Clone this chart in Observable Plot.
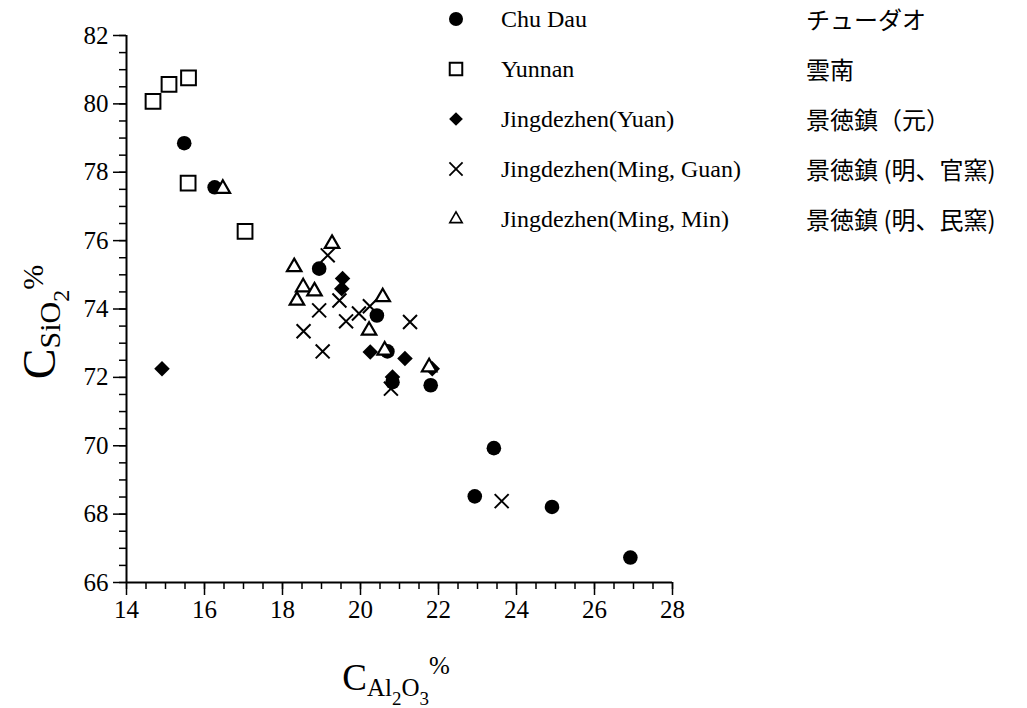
<!DOCTYPE html>
<html><head><meta charset="utf-8">
<script src="https://cdn.jsdelivr.net/npm/d3@7"></script>
<script src="https://cdn.jsdelivr.net/npm/@observablehq/plot@0.6"></script>
<style>
html,body{margin:0;padding:0;background:#fff;}
#chart{position:relative;width:1027px;height:708px;}
</style></head><body><div id="chart"></div>
<script>
// ---- data ----
const xMajorTicks = [14, 16, 18, 20, 22, 24, 26, 28];
const yMajorTicks = [66, 68, 70, 72, 74, 76, 78, 80, 82];
const xMinorTicks = d3.range(14, 28.001, 0.5);
const yMinorTicks = d3.range(66, 82.001, 0.5);

const seriesNames = ["Chu Dau", "Yunnan", "Jingdezhen(Yuan)", "Jingdezhen(Ming, Guan)", "Jingdezhen(Ming, Min)"];
const seriesNamesJa = ["チューダオ", "雲南", "景徳鎮（元）", "景徳鎮 (明、官窯)", "景徳鎮 (明、民窯)"];

const chuDauX = [15.48, 16.26, 18.94, 20.42, 20.69, 20.82, 21.80, 23.42, 22.93, 24.91, 26.92];
const chuDauY = [78.85, 77.56, 75.18, 73.81, 72.76, 71.86, 71.77, 69.93, 68.52, 68.21, 66.73];

const yunnanX = [14.68, 15.09, 15.59, 15.58, 17.04];
const yunnanY = [80.07, 80.57, 80.76, 77.68, 76.27];

const yuanX = [14.91, 19.54, 19.52, 20.25, 21.14, 21.84, 20.82];
const yuanY = [72.25, 74.89, 74.59, 72.74, 72.55, 72.25, 72.01];

const guanX = [19.16, 18.94, 19.46, 18.54, 19.03, 19.63, 19.96, 20.24, 21.27, 20.78, 23.62];
const guanY = [75.57, 73.96, 74.25, 73.35, 72.76, 73.64, 73.87, 74.08, 73.62, 71.67, 68.38];

const minX = [16.47, 19.27, 18.30, 18.53, 18.82, 18.37, 20.57, 20.22, 20.62, 21.76];
const minY = [77.52, 75.91, 75.23, 74.64, 74.52, 74.25, 74.35, 73.37, 72.79, 72.30];

const toRows = (xs, ys) => xs.map((x, i) => ({x, y: ys[i]}));
const chuDau = toRows(chuDauX, chuDauY);
const yunnan = toRows(yunnanX, yunnanY);
const yuan = toRows(yuanX, yuanY);
const guan = toRows(guanX, guanY);
const minData = toRows(minX, minY);

const serif = "'Liberation Serif', 'Times New Roman', serif";

const chart = Plot.plot({
  width: 1027,
  height: 708,
  marginLeft: 126,
  marginTop: 35,
  marginBottom: 126,
  marginRight: 355,
  x: {domain: [14, 28], label: null},
  y: {domain: [66, 82], label: null},
  style: {fontFamily: serif, background: "white", color: "black"},
  marks: [
    Plot.axisX(xMinorTicks, {tickSize: 7, tickFormat: () => "", strokeWidth: 1.5, label: null}),
    Plot.axisX(xMajorTicks, {tickSize: 13, tickPadding: 5, fontSize: 25, strokeWidth: 1.5, label: null, tickFormat: d => String(d)}),
    Plot.axisY(yMinorTicks, {tickSize: 7, tickFormat: () => "", strokeWidth: 1.5, label: null}),
    Plot.axisY(yMajorTicks, {tickSize: 13, tickPadding: 5, fontSize: 25, strokeWidth: 1.5, label: null, tickFormat: d => String(d)}),
    Plot.ruleY([66], {stroke: "black", strokeWidth: 2}),
    Plot.ruleX([14], {stroke: "black", strokeWidth: 2}),
    Plot.dot(chuDau, {x: "x", y: "y", r: 7.3, symbol: "circle", fill: "black", stroke: "none"}),
    Plot.dot(yunnan, {x: "x", y: "y", r: 9.4, symbol: "square2", fill: "white", stroke: "black", strokeWidth: 2}),
    Plot.dot(yuan, {x: "x", y: "y", r: 7.0, symbol: "diamond2", fill: "black", stroke: "none"}),
    Plot.dot(guan, {x: "x", y: "y", r: 6.4, symbol: "times", stroke: "black", strokeWidth: 2}),
    Plot.dot(minData, {x: "x", y: "y", r: 6.9, symbol: "triangle2", fill: "white", stroke: "black", strokeWidth: 2.2})
  ]
});
document.getElementById("chart").appendChild(chart);

const svg = d3.select(chart);

// axis labels
const yl = svg.append("text")
  .attr("transform", "translate(55,322) rotate(-90)")
  .attr("text-anchor", "middle")
  .attr("font-family", serif)
  .attr("fill", "black");
yl.append("tspan").attr("font-size", 46).text("C");
yl.append("tspan").attr("font-size", 30).attr("dy", 5).text("SiO");
yl.append("tspan").attr("font-size", 24).attr("dy", 9).text("2");
yl.append("tspan").attr("font-size", 30).attr("dy", -26).text("%");

const xl = svg.append("text")
  .attr("x", 396).attr("y", 690)
  .attr("text-anchor", "middle")
  .attr("font-family", serif)
  .attr("fill", "black");
xl.append("tspan").attr("font-size", 37).text("C");
xl.append("tspan").attr("font-size", 25).attr("dy", 6).text("Al");
xl.append("tspan").attr("font-size", 19).attr("dy", 9).text("2");
xl.append("tspan").attr("font-size", 25).attr("dy", -9).text("O");
xl.append("tspan").attr("font-size", 19).attr("dy", 9).text("3");
xl.append("tspan").attr("font-size", 25).attr("dy", -31).text("%");

// legend
const legendSymbols = [
  {sym: d3.symbolCircle, size: 155, fill: "black", stroke: "none", sw: 0},
  {sym: d3.symbolSquare2, size: 200, fill: "white", stroke: "black", sw: 2},
  {sym: d3.symbolDiamond2, size: 120, fill: "black", stroke: "none", sw: 0},
  {sym: d3.symbolTimes, size: 115, fill: "none", stroke: "black", sw: 1.8},
  {sym: d3.symbolTriangle2, size: 110, fill: "white", stroke: "black", sw: 1.6}
];
const lg = svg.append("g").attr("text-anchor", "start");
seriesNames.forEach((name, i) => {
  const cy = 19 + i * 50;
  const s = legendSymbols[i];
  lg.append("path")
    .attr("transform", `translate(456,${cy})`)
    .attr("d", d3.symbol(s.sym, s.size)())
    .attr("fill", s.fill).attr("stroke", s.stroke).attr("stroke-width", s.sw);
  lg.append("text").attr("x", 501).attr("y", cy + 8)
    .attr("text-anchor", "start")
    .attr("font-family", serif).attr("font-size", 24).attr("fill", "black").text(name);
  lg.append("text").attr("x", 806).attr("y", cy + 10)
    .attr("text-anchor", "start")
    .attr("font-family", "'Noto Sans CJK JP', sans-serif").attr("font-size", 24).attr("fill", "black").text(seriesNamesJa[i]);
});
</script>
</body></html>
